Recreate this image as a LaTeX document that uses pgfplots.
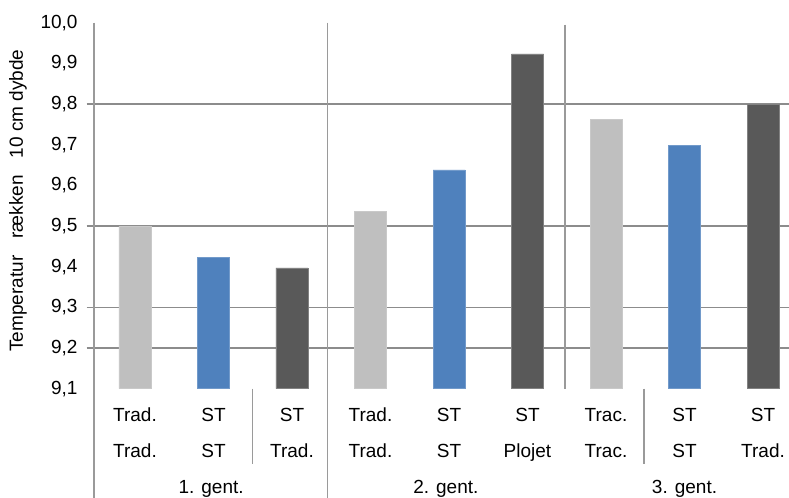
\documentclass[border=0pt]{standalone}
\usepackage{fontspec}
\setmainfont{Liberation Sans}
\usepackage{pgfplots}
\pgfplotsset{compat=1.18}

\definecolor{bartrad}{HTML}{BFBFBF}
\definecolor{barst}{HTML}{4F81BD}
\definecolor{bardark}{HTML}{595959}
\definecolor{gridc}{HTML}{8C8C8C}
\definecolor{sepc}{HTML}{9A9A9A}

\newcommand{\lblfont}{\fontsize{19bp}{36bp}\selectfont}

\begin{document}
\begin{tikzpicture}
\begin{axis}[
  at={(94bp,-388.67bp)}, anchor=south west,
  scale only axis,
  width=695bp, height=366bp,
  xmin=-0.522, xmax=8.331,
  ymin=9.1, ymax=10.0,
  clip mode=individual,
  axis line style={draw=none},
  tick style={draw=none},
  major tick length=0pt,
  ybar, bar width=32bp, bar shift=0pt,
  ytick={9.1,9.2,9.3,9.4,9.5,9.6,9.7,9.8,9.9,10.0},
  yticklabel style={
    /pgf/number format/.cd, fixed, fixed zerofill, precision=1, use comma,
    assume math mode=true,
    /tikz/.cd, font=\lblfont, inner sep=0pt, anchor=east, xshift=-16.3bp},
  xtick={0,...,8},
  xticklabels={{Trad.\\Trad.},{ST\\ST},{ST\\Trad.},
               {Trad.\\Trad.},{ST\\ST},{ST\\Plojet},
               {Trac.\\Trac.},{ST\\ST},{ST\\Trad.}},
  xticklabel style={font=\lblfont, align=center, inner sep=0pt,
    anchor=north, yshift=-19.2bp},
  ylabel={Temperatur\hspace{17bp}rækken\hspace{17bp}10 cm dybde},
  ylabel style={at={([xshift=-76bp]rel axis cs:0,0.514)}, anchor=center,
    inner sep=0pt, font=\fontsize{19bp}{22bp}\selectfont},
]
% horizontal reference lines
\draw[gridc, line width=1.3bp] ([xshift=-7.3bp]axis cs:-0.522,9.2) -- (axis cs:8.331,9.2);
\draw[gridc, line width=1.3bp] ([xshift=-7.3bp]axis cs:-0.522,9.3) -- (axis cs:8.331,9.3);
\draw[gridc, line width=1.3bp] ([xshift=-7.3bp]axis cs:-0.522,9.5) -- (axis cs:8.331,9.5);
\draw[gridc, line width=1.3bp] ([xshift=-7.3bp]axis cs:-0.522,9.8) -- (axis cs:8.331,9.8);

% Trad. / Trad.
\addplot[fill=bartrad, draw=bartrad!85!white, line width=0.6bp]
  coordinates {(0,9.500) (3,9.535) (6,9.762)};
% ST / ST
\addplot[fill=barst, draw=barst!80!white, line width=0.6bp]
  coordinates {(1,9.422) (4,9.638) (7,9.698)};
% ST / Trad. and ST / Plojet
\addplot[fill=bardark, draw=bardark!75!white, line width=0.6bp]
  coordinates {(2,9.397) (5,9.923) (8,9.799)};

% vertical axis and group separators
\draw[sepc, line width=1.3bp] (axis cs:-0.522,10.0) -- ([yshift=-110bp]axis cs:-0.522,9.1);
\draw[sepc, line width=1.3bp] (axis cs:2.455,10.0) -- ([yshift=-110bp]axis cs:2.455,9.1);
\draw[sepc, line width=1.3bp] (axis cs:5.478,9.995) -- (axis cs:5.478,9.1);
\draw[sepc, line width=1.3bp] (axis cs:1.494,9.1) -- ([yshift=-75bp]axis cs:1.494,9.1);
\draw[sepc, line width=1.3bp] (axis cs:6.484,9.1) -- ([yshift=-75bp]axis cs:6.484,9.1);

% group labels
\node[font=\lblfont, anchor=base, inner sep=0pt] at ([yshift=-104.8bp]axis cs:0.97,9.1) {1. gent.};
\node[font=\lblfont, anchor=base, inner sep=0pt] at ([yshift=-104.8bp]axis cs:3.96,9.1) {2. gent.};
\node[font=\lblfont, anchor=base, inner sep=0pt] at ([yshift=-104.8bp]axis cs:7.0,9.1) {3. gent.};
\end{axis}
\pgfresetboundingbox
\path[use as bounding box] (0,0) rectangle (789bp,-498bp);
\end{tikzpicture}
\end{document}
